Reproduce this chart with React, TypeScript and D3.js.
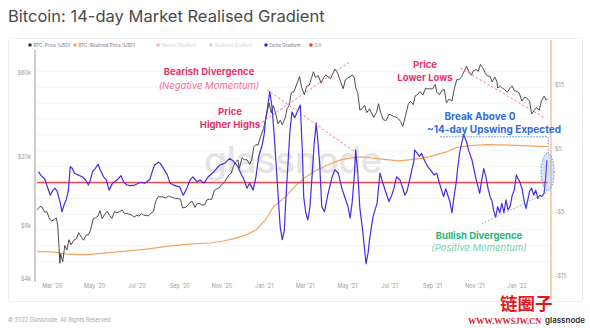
import React from 'react';
import * as d3 from 'd3';

const W = 590;
const H = 328;

const chartTitle = 'Bitcoin: 14-day Market Realised Gradient';

const priceData: [string, number][] = [
  ['2020-02-08', 9900], ['2020-02-12', 10350], ['2020-02-15', 10300], ['2020-02-19', 9600], ['2020-02-22', 9700],
  ['2020-02-26', 8800], ['2020-02-29', 8550], ['2020-03-04', 8750], ['2020-03-07', 8900], ['2020-03-09', 7900],
  ['2020-03-12', 4900], ['2020-03-13', 5560], ['2020-03-16', 5000], ['2020-03-19', 6200], ['2020-03-22', 5830],
  ['2020-03-25', 6680], ['2020-03-28', 6250], ['2020-04-01', 6640], ['2020-04-05', 6780], ['2020-04-08', 7340],
  ['2020-04-12', 6910], ['2020-04-15', 6640], ['2020-04-19', 7120], ['2020-04-22', 7130], ['2020-04-25', 7550],
  ['2020-04-29', 8800], ['2020-05-02', 8900], ['2020-05-06', 9150], ['2020-05-09', 9800], ['2020-05-12', 8830],
  ['2020-05-16', 9380], ['2020-05-19', 9730], ['2020-05-23', 9180], ['2020-05-26', 8850], ['2020-05-30', 9700],
  ['2020-06-02', 9520], ['2020-06-06', 9670], ['2020-06-10', 9890], ['2020-06-13', 9470], ['2020-06-17', 9450],
  ['2020-06-20', 9350], ['2020-06-24', 9250], ['2020-06-27', 8980], ['2020-07-01', 9230], ['2020-07-04', 9130],
  ['2020-07-08', 9440], ['2020-07-11', 9240], ['2020-07-15', 9180], ['2020-07-18', 9170], ['2020-07-22', 9530],
  ['2020-07-25', 9700], ['2020-07-28', 11000], ['2020-08-01', 11800], ['2020-08-05', 11750], ['2020-08-08', 11750],
  ['2020-08-12', 11580], ['2020-08-16', 11900], ['2020-08-19', 11760], ['2020-08-22', 11680], ['2020-08-26', 11480],
  ['2020-08-29', 11530], ['2020-09-02', 11400], ['2020-09-05', 10170], ['2020-09-09', 10240], ['2020-09-12', 10440],
  ['2020-09-16', 10940], ['2020-09-19', 11080], ['2020-09-23', 10230], ['2020-09-26', 10730], ['2020-09-30', 10780],
  ['2020-10-03', 10550], ['2020-10-07', 10600], ['2020-10-10', 11300], ['2020-10-14', 11430], ['2020-10-17', 11360],
  ['2020-10-21', 12820], ['2020-10-24', 13030], ['2020-10-28', 13270], ['2020-10-31', 13800], ['2020-11-04', 14150],
  ['2020-11-07', 14820], ['2020-11-11', 15700], ['2020-11-14', 16000], ['2020-11-18', 17800], ['2020-11-21', 18700],
  ['2020-11-24', 19170], ['2020-11-26', 17150], ['2020-11-30', 19700], ['2020-12-03', 19200], ['2020-12-07', 19190],
  ['2020-12-11', 18060], ['2020-12-14', 19280], ['2020-12-17', 22800], ['2020-12-20', 23480], ['2020-12-23', 23240],
  ['2020-12-27', 26270], ['2020-12-31', 29000], ['2021-01-03', 32780], ['2021-01-08', 40580], ['2021-01-11', 35570],
  ['2021-01-14', 39190], ['2021-01-17', 35830], ['2021-01-21', 30830], ['2021-01-24', 32280], ['2021-01-27', 30430],
  ['2021-01-31', 33110], ['2021-02-03', 37660], ['2021-02-06', 39270], ['2021-02-09', 46480], ['2021-02-13', 47190],
  ['2021-02-17', 52120], ['2021-02-21', 57540], ['2021-02-24', 49680], ['2021-02-28', 45130], ['2021-03-03', 50540],
  ['2021-03-07', 51200], ['2021-03-10', 56000], ['2021-03-13', 61190], ['2021-03-16', 56800], ['2021-03-20', 58200],
  ['2021-03-24', 52700], ['2021-03-27', 55800], ['2021-03-31', 58900], ['2021-04-03', 57100], ['2021-04-07', 56000],
  ['2021-04-10', 59800], ['2021-04-13', 63500], ['2021-04-17', 60000], ['2021-04-21', 54000], ['2021-04-25', 49000],
  ['2021-04-28', 55000], ['2021-05-02', 56600], ['2021-05-05', 57200], ['2021-05-08', 58800], ['2021-05-11', 56700],
  ['2021-05-13', 49700], ['2021-05-16', 46400], ['2021-05-19', 37000], ['2021-05-22', 37500], ['2021-05-26', 39300],
  ['2021-05-29', 35700], ['2021-06-02', 37600], ['2021-06-05', 35500], ['2021-06-08', 33500], ['2021-06-12', 35800],
  ['2021-06-15', 40200], ['2021-06-18', 35800], ['2021-06-22', 32500], ['2021-06-26', 32200], ['2021-06-30', 35000],
  ['2021-07-03', 34700], ['2021-07-07', 33800], ['2021-07-10', 33800], ['2021-07-14', 32800], ['2021-07-17', 31800],
  ['2021-07-20', 29800], ['2021-07-24', 34300], ['2021-07-28', 40000], ['2021-07-31', 41500], ['2021-08-04', 39700],
  ['2021-08-07', 44600], ['2021-08-11', 45600], ['2021-08-14', 47100], ['2021-08-18', 45000], ['2021-08-22', 49300],
  ['2021-08-25', 48900], ['2021-08-28', 48900], ['2021-09-01', 48800], ['2021-09-05', 51800], ['2021-09-07', 46800],
  ['2021-09-11', 45200], ['2021-09-15', 48100], ['2021-09-18', 48300], ['2021-09-21', 40700], ['2021-09-25', 42800],
  ['2021-09-29', 41600], ['2021-10-02', 48200], ['2021-10-06', 55300], ['2021-10-09', 55000], ['2021-10-13', 57400],
  ['2021-10-16', 60900], ['2021-10-20', 66000], ['2021-10-23', 61300], ['2021-10-27', 58500], ['2021-10-30', 62000],
  ['2021-11-03', 63000], ['2021-11-06', 61500], ['2021-11-09', 67500], ['2021-11-13', 64200], ['2021-11-16', 60300],
  ['2021-11-19', 58000], ['2021-11-23', 57500], ['2021-11-26', 53600], ['2021-11-30', 57000], ['2021-12-03', 53600],
  ['2021-12-04', 49400], ['2021-12-08', 50600], ['2021-12-11', 49300], ['2021-12-14', 48400], ['2021-12-18', 46700],
  ['2021-12-21', 48900], ['2021-12-25', 50800], ['2021-12-28', 47600], ['2022-01-01', 47300], ['2022-01-04', 46400],
  ['2022-01-08', 41600], ['2022-01-12', 43900], ['2022-01-15', 43100], ['2022-01-19', 41700], ['2022-01-22', 35100],
  ['2022-01-26', 36800], ['2022-01-29', 38200], ['2022-02-02', 36900], ['2022-02-05', 41400], ['2022-02-09', 44400],
  ['2022-02-12', 42200], ['2022-02-14', 42600],
];

const realizedData: [string, number][] = [
  ['2020-02-08', 5710], ['2020-03-01', 5700], ['2020-03-20', 5550], ['2020-04-15', 5470], ['2020-05-15', 5600],
  ['2020-06-15', 5750], ['2020-07-15', 5900], ['2020-08-15', 6150], ['2020-09-15', 6300], ['2020-10-15', 6400],
  ['2020-11-01', 6550], ['2020-11-20', 6800], ['2020-12-05', 7100], ['2020-12-20', 7600], ['2021-01-01', 8500],
  ['2021-01-15', 10400], ['2021-02-01', 11800], ['2021-02-15', 13600], ['2021-03-01', 15200], ['2021-03-15', 16500],
  ['2021-04-01', 17800], ['2021-04-20', 19100], ['2021-05-10', 19800], ['2021-05-25', 19900], ['2021-06-15', 19400],
  ['2021-07-15', 18900], ['2021-08-20', 19600], ['2021-09-20', 21200], ['2021-10-05', 22500], ['2021-10-25', 23100],
  ['2021-11-20', 23400], ['2022-01-01', 23200], ['2022-02-14', 22800],
];

const deltaData: [string, number][] = [
  ['2020-02-10', 1.7], ['2020-02-13', 1.2], ['2020-02-19', 0.55], ['2020-02-23', -0.7], ['2020-02-27', -2],
  ['2020-03-02', -1.2], ['2020-03-05', -0.9], ['2020-03-08', -1.4], ['2020-03-12', -3], ['2020-03-15', -4.6],
  ['2020-03-18', -3.5], ['2020-03-21', -2.75], ['2020-03-24', -1.4], ['2020-03-27', 2.5], ['2020-03-30', 2.2],
  ['2020-04-02', 1.45], ['2020-04-07', 1.2], ['2020-04-13', 0.9], ['2020-04-18', 0.4], ['2020-04-22', -0.4],
  ['2020-04-25', 0.4], ['2020-04-28', 1.7], ['2020-05-02', 2.2], ['2020-05-06', 2.9], ['2020-05-09', 2.0],
  ['2020-05-14', 0.9], ['2020-05-18', 0.4], ['2020-05-22', -1.2], ['2020-05-27', -0.1], ['2020-05-31', 0.2],
  ['2020-06-04', 0.55], ['2020-06-08', 1.1], ['2020-06-12', 0.1], ['2020-06-17', -0.4], ['2020-06-21', -0.5],
  ['2020-06-28', -0.4], ['2020-07-06', 0], ['2020-07-13', -0.1], ['2020-07-20', 0.5], ['2020-07-24', 2.0],
  ['2020-07-27', 2.75], ['2020-08-01', 3.2], ['2020-08-04', 3.0], ['2020-08-08', 2.3], ['2020-08-14', 1.2],
  ['2020-08-18', -0.1], ['2020-08-25', -0.5], ['2020-09-01', -0.7], ['2020-09-06', -2], ['2020-09-10', -1.2],
  ['2020-09-16', 0.4], ['2020-09-20', 0.9], ['2020-09-26', 0.1], ['2020-09-30', 0.4], ['2020-10-06', -0.1],
  ['2020-10-12', 0.9], ['2020-10-18', 1.45], ['2020-10-24', 2.2], ['2020-10-29', 2.75], ['2020-11-05', 3.0],
  ['2020-11-12', 3.8], ['2020-11-18', 3.3], ['2020-11-24', 2.5], ['2020-11-28', 1.45], ['2020-12-03', 0.4],
  ['2020-12-07', -0.9], ['2020-12-11', -0.1], ['2020-12-16', -1.2], ['2020-12-20', 0.9], ['2020-12-24', 4.1],
  ['2020-12-29', 5.9], ['2021-01-01', 7.7], ['2021-01-03', 10], ['2021-01-06', 12], ['2021-01-09', 14.3],
  ['2021-01-12', 12], ['2021-01-15', 8], ['2021-01-18', 3], ['2021-01-21', -2], ['2021-01-24', -7],
  ['2021-01-27', -9], ['2021-01-30', -7.5], ['2021-02-01', -3], ['2021-02-04', 2.5], ['2021-02-07', 8],
  ['2021-02-10', 11.1], ['2021-02-14', 10.2], ['2021-02-19', 11.5], ['2021-02-22', 12.2], ['2021-02-25', 5],
  ['2021-02-27', -2.3], ['2021-03-02', -4.8], ['2021-03-05', -5.9], ['2021-03-08', -3.8], ['2021-03-11', 1],
  ['2021-03-14', 6], ['2021-03-17', 9.4], ['2021-03-19', 7], ['2021-03-22', 3], ['2021-03-25', -3.8],
  ['2021-03-29', -4.6], ['2021-04-03', -1.8], ['2021-04-09', 0.9], ['2021-04-13', 2.0], ['2021-04-18', 1.45],
  ['2021-04-23', -0.9], ['2021-04-27', -2.2], ['2021-05-02', -3.8], ['2021-05-05', -5.6], ['2021-05-08', -3],
  ['2021-05-11', 1], ['2021-05-13', 5.1], ['2021-05-16', 1.5], ['2021-05-19', -4], ['2021-05-23', -7.5],
  ['2021-05-28', -12.8], ['2021-05-31', -11], ['2021-06-02', -9], ['2021-06-07', -5.4], ['2021-06-13', -3.2],
  ['2021-06-17', 1.5], ['2021-06-21', 0], ['2021-06-26', -1.7], ['2021-06-30', -3], ['2021-07-04', -2],
  ['2021-07-07', -1], ['2021-07-11', 0.9], ['2021-07-16', 0.4], ['2021-07-20', -0.9], ['2021-07-23', -2],
  ['2021-07-26', -1.4], ['2021-07-30', 0.4], ['2021-08-02', 2], ['2021-08-05', 3.3], ['2021-08-06', 5.1],
  ['2021-08-10', 4.6], ['2021-08-13', 4.1], ['2021-08-16', 4.6], ['2021-08-21', 3.3], ['2021-08-25', 2.5],
  ['2021-08-29', 2], ['2021-09-03', 1.2], ['2021-09-07', 1.45], ['2021-09-11', -0.1], ['2021-09-14', -1.2],
  ['2021-09-17', -2.2], ['2021-09-20', -1], ['2021-09-23', -2], ['2021-09-26', -3], ['2021-09-29', -4.8],
  ['2021-10-02', -2.2], ['2021-10-05', -0.1], ['2021-10-07', 2], ['2021-10-10', 4.6], ['2021-10-13', 6.2],
  ['2021-10-16', 7.5], ['2021-10-20', 6.4], ['2021-10-23', 5.1], ['2021-10-28', 3.5], ['2021-10-31', 2],
  ['2021-11-02', 0.9], ['2021-11-05', -0.4], ['2021-11-08', -1.7], ['2021-11-11', 0.4], ['2021-11-14', 2.2],
  ['2021-11-17', 0.9], ['2021-11-20', -0.9], ['2021-11-23', -2.2], ['2021-11-26', -3], ['2021-11-28', -4.3],
  ['2021-12-01', -5.5], ['2021-12-04', -3.8], ['2021-12-07', -4.8], ['2021-12-10', -3.3], ['2021-12-13', -4.8],
  ['2021-12-16', -2.75], ['2021-12-19', -4.3], ['2021-12-22', -3.8], ['2021-12-25', -2], ['2021-12-28', -1.2],
  ['2021-12-31', 1.2], ['2022-01-02', 0.7], ['2022-01-05', 0.1], ['2022-01-08', -0.9], ['2022-01-11', -2.75],
  ['2022-01-14', -4.1], ['2022-01-16', -3], ['2022-01-19', -1.4], ['2022-01-22', -0.9], ['2022-01-25', -2],
  ['2022-01-28', -1.2], ['2022-01-31', -2.5], ['2022-02-03', -2], ['2022-02-06', -2.2], ['2022-02-09', -1.7],
  ['2022-02-11', 0.4], ['2022-02-13', 3.5],
];

const zeroLineDates = ['2020-02-08', '2022-02-14'];
const zeroLineValue = 0;

const xDomain = ['2020-02-05', '2022-02-19'];
const xTickDates = [
  '2020-03-01', '2020-05-01', '2020-07-01', '2020-09-01', '2020-11-01', '2021-01-01',
  '2021-03-01', '2021-05-01', '2021-07-01', '2021-09-01', '2021-11-01', '2022-01-01',
];
const leftDomain = [3930, 73400];
const leftTicks = [60000, 20000, 8000, 4000];
const leftTickLabels = ['$60k', '$20k', '$8k', '$4k'];
const rightDomain = [-15.35, 19.6];
const rightTicks = [15, 5, -5, -15];
const rightTickLabels = ['$15', '$5', '-$5', '-$15'];
const gridValues = [-12.5, -10, -7.5, -5, -2.5, 2.5, 5, 7.5, 10, 12.5, 15, 17.5];

const legendLabels = ['BTC: Price [USD]', 'BTC: Realized Price [USD]', 'Market Gradient', 'Realised Gradient', 'Delta Gradient', '0.0'];
const legendColors = ['#333333', '#f5a45e', '#f3b6c9', '#b9dde3', '#3b26d6', '#f0383e'];
const legendTextColors = ['#777', '#777', '#d5d5d5', '#d5d5d5', '#777', '#777'];
const legendX = [30, 75, 158, 211, 266, 311];

// annotation anchors (date, value)
const bearishDeltaLine: [string, number][] = [['2021-01-05', 14.6], ['2021-05-12', 4.8]];
const higherHighsLine: [string, number][] = [['2020-12-23', 30400], ['2021-05-05', 69900]];
const lowerLowsLine: [string, number][] = [['2021-10-11', 64300], ['2022-02-10', 33300]];
const bullishLine: [string, number][] = [['2021-11-11', -6.5], ['2022-02-15', -1.5]];
const breakHLine: [string, number][] = [['2021-09-12', 7.2], ['2022-02-15', 7.2]];
const breakVLine: [string, number][] = [['2022-02-15', 7.2], ['2022-02-15', 4.6]];
const breakEllipse: [string, number] = ['2022-02-14', 1.65];

const FONT = 'Inter, Roboto, "Noto Sans", sans-serif';

export default function App() {
  const pd = (s: string) => new Date(s + 'T00:00:00Z');
  const x = d3.scaleUtc().domain(xDomain.map(pd)).range([35, 551]);
  const yL = d3.scaleLog().domain(leftDomain).range([280, 58]);
  const yR = d3.scaleLinear().domain(rightDomain).range([280, 58]);
  const fmt = d3.utcFormat("%b '%y");

  const lineL = d3.line<[string, number]>().x(d => x(pd(d[0]))).y(d => yL(d[1]));
  const lineR = d3.line<[string, number]>().x(d => x(pd(d[0]))).y(d => yR(d[1]));

  const zeroData: [string, number][] = zeroLineDates.map(d => [d, zeroLineValue]);

  const pink = '#e8336d';
  const pinkLight = '#ef6d96';
  const blue = '#2f6ddb';
  const green = '#27b477';
  const greenLight = '#72d3a6';

  return (
    <svg width={W} height={H} style={{ position: 'absolute', left: 0, top: 0, background: '#fff' }} fontFamily={FONT}>
      <rect x={0} y={0} width={W} height={H} fill="#fff" />
      <text x={8} y={22} fontSize={16.5} fill="#4a4a4a">{chartTitle}</text>
      <rect x={8.5} y={38.5} width={574} height={263} fill="none" stroke="#eeeeee" rx={2} />

      {/* legend */}
      {legendLabels.map((l, i) => (
        <g key={l}>
          <circle cx={legendX[i]} cy={45} r={1.8} fill={legendColors[i]} />
          <text x={legendX[i] + 3.5} y={46.8} fontSize={4.6} fill={legendTextColors[i]}>{l}</text>
        </g>
      ))}

      {/* grid */}
      {gridValues.map(v => (
        <line key={v} x1={36} x2={550} y1={yR(v)} y2={yR(v)} stroke="#f3f3f3" strokeWidth={0.8} />
      ))}

      {/* watermark */}
      <text x={293} y={173} fontSize={37} fontWeight={500} fill="#e4e4e4" textAnchor="middle" letterSpacing={-0.5}>glassnode</text>

      {/* axes */}
      <line x1={35} x2={35} y1={50} y2={282} stroke="#9a9a9a" strokeWidth={1} />
      <line x1={551} x2={551} y1={40} y2={300} stroke="#f5a45e" strokeWidth={1} />
      {leftTicks.map((t, i) => (
        <text key={t} x={31} y={yL(t)} dy="0.35em" fontSize={5.5} fill="#999" textAnchor="end">{leftTickLabels[i]}</text>
      ))}
      {rightTicks.map((t, i) => (
        <text key={t} x={555} y={yR(t) - 2} dy="0.35em" fontSize={5.5} fill="#999" textAnchor="start">{rightTickLabels[i]}</text>
      ))}
      {xTickDates.map(d => (
        <text key={d} x={x(pd(d))} y={287.5} fontSize={5.5} fill="#999" textAnchor="middle">{fmt(pd(d))}</text>
      ))}

      {/* series */}
      <path d={lineL(realizedData) || ''} fill="none" stroke="#f5a45e" strokeWidth={1.2} />
      <path d={lineL(priceData) || ''} fill="none" stroke="#3a3a3a" strokeWidth={0.9} strokeLinejoin="round" />
      <path d={lineR(zeroData) || ''} fill="none" stroke="#f4484c" strokeWidth={1.3} />
      <path d={lineR(deltaData) || ''} fill="none" stroke="#4a2be0" strokeWidth={1.2} strokeLinejoin="round" />

      {/* annotation lines */}
      <path d={lineR(bearishDeltaLine) || ''} fill="none" stroke="#f06a95" strokeWidth={0.9} strokeDasharray="2.5,2" />
      <path d={lineL(higherHighsLine) || ''} fill="none" stroke="#f06a95" strokeWidth={0.9} strokeDasharray="2.5,2" />
      <path d={lineL(lowerLowsLine) || ''} fill="none" stroke="#f06a95" strokeWidth={0.9} strokeDasharray="2.5,2" />
      <path d={lineR(bullishLine) || ''} fill="none" stroke="#5cc99a" strokeWidth={1} strokeDasharray="1.5,2" />
      <path d={lineR(breakHLine) || ''} fill="none" stroke="#4a7fe0" strokeWidth={0.9} strokeDasharray="1.5,1.5" />
      <path d={lineR(breakVLine) || ''} fill="none" stroke="#4a7fe0" strokeWidth={0.9} strokeDasharray="1.5,1.5" />
      <ellipse cx={x(pd(breakEllipse[0]))} cy={yR(breakEllipse[1])} rx={6.5} ry={18.5} fill="rgba(110,150,240,0.28)" stroke="#4a7fe0" strokeWidth={0.9} strokeDasharray="1.5,1.5" />

      {/* annotation texts */}
      <text x={209} y={75} fontSize={9.5} fontWeight={700} fill={pink} textAnchor="middle">Bearish Divergence</text>
      <text x={209} y={88.5} fontSize={9.5} fontStyle="italic" fill={pinkLight} textAnchor="middle">(Negative Momentum)</text>
      <text x={230} y={115} fontSize={9.5} fontWeight={700} fill={pink} textAnchor="middle">Price</text>
      <text x={230} y={128} fontSize={9.5} fontWeight={700} fill={pink} textAnchor="middle">Higher Highs</text>
      <text x={425} y={68} fontSize={9.5} fontWeight={700} fill={pink} textAnchor="middle">Price</text>
      <text x={425} y={81} fontSize={9.5} fontWeight={700} fill={pink} textAnchor="middle">Lower Lows</text>
      <text x={480} y={120} fontSize={10} fontWeight={700} fill={blue} textAnchor="middle">Break Above 0</text>
      <text x={494} y={133} fontSize={10} fontWeight={700} fill={blue} textAnchor="middle">~14-day Upswing Expected</text>
      <text x={479} y={239} fontSize={9.5} fontWeight={700} fill={green} textAnchor="middle">Bullish Divergence</text>
      <text x={479} y={251} fontSize={9.5} fontStyle="italic" fill={greenLight} textAnchor="middle">(Positive Momentum)</text>

      {/* footer */}
      <text x={8} y={322} fontSize={5.5} fill="#aaa">© 2022 Glassnode. All Rights Reserved.</text>
      <text x={500} y={310} fontSize={17.5} fontWeight={700} fill="#e5171d" fontFamily='"Noto Sans CJK SC", sans-serif'>链圈子</text>
      <text x={468} y={324} fontSize={8.3} fontWeight={700} fill="#e5171d" fontFamily='"Liberation Serif", serif'>WWW.WWSJW.CN</text>
      <text x={585} y={323} fontSize={8} fontWeight={600} fill="#2a2a2a" textAnchor="end">glassnode</text>
    </svg>
  );
}
